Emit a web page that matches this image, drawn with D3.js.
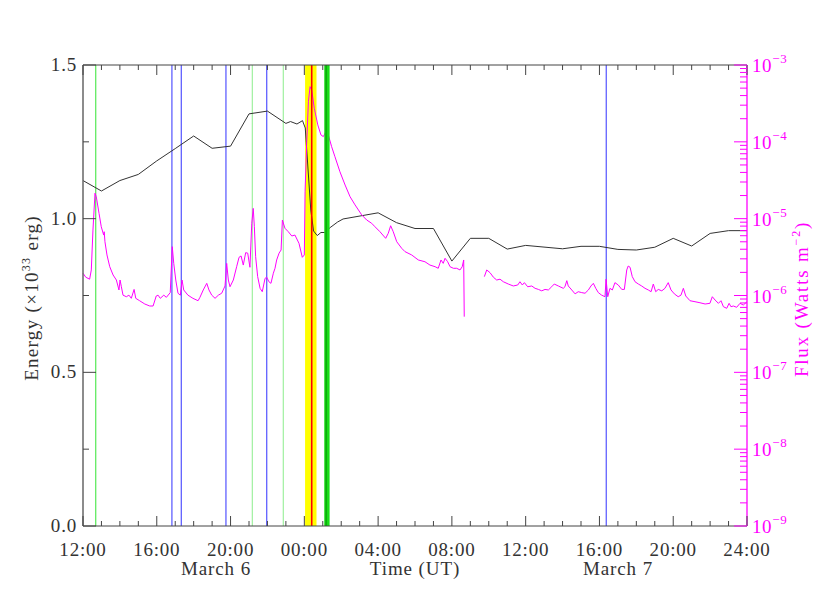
<!DOCTYPE html>
<html><head><meta charset="utf-8">
<script src="https://cdn.jsdelivr.net/npm/d3@7"></script>
<style>body{margin:0;background:#fff}svg text{font-family:"Liberation Serif","DejaVu Serif",serif}</style>
</head><body>
<svg id="c" width="830" height="593"></svg>
<script>
// ---- data (hours since 12:00 UT, 6 March) ----
const energyHours = [0,1,2,3,4,5,6,7,8,9,10,11,11.25,11.6,11.9,12.05,12.35,12.5,12.7,12.9,13.1,13.4,13.8,14.1,16,17,18,19,20,21,22,23,24,26,27,28,29,30,31,32,33,34,35,36];
const energyValues = [1.124,1.090,1.124,1.144,1.188,1.228,1.269,1.229,1.236,1.341,1.350,1.310,1.316,1.308,1.319,1.295,1.028,0.960,0.945,0.955,0.955,0.971,0.989,0.999,1.019,0.987,0.968,0.968,0.862,0.936,0.936,0.901,0.913,0.902,0.910,0.910,0.900,0.898,0.907,0.936,0.911,0.952,0.961,0.961];

const fluxHours = [0,0.15,0.36,0.45,0.54,0.65,0.72,0.87,0.99,1.12,1.15,1.19,1.30,1.45,1.63,1.81,1.95,2.01,2.08,2.17,2.35,2.49,2.62,2.77,2.86,3.07,3.35,3.62,3.80,3.97,4.07,4.19,4.38,4.52,4.73,4.84,4.92,5.03,5.15,5.28,5.37,5.46,5.69,5.96,6.24,
6.34,6.52,6.71,6.83,6.98,7.16,7.34,7.52,7.70,7.79,7.88,7.97,8.15,8.33,8.46,8.57,8.69,8.82,8.93,9.05,9.15,9.23,9.29,9.36,9.47,9.60,9.72,9.87,9.96,10.08,10.19,10.32,10.41,10.50,10.63,10.74,10.81,10.95,11.13,11.32,11.49,11.71,11.89,12.00,
12.04,12.13,12.22,12.31,12.40,12.54,12.73,12.90,13.03,13.17,13.30,13.48,13.66,13.93,14.21,14.48,14.75,15.11,15.38,15.65,15.83,16.10,16.41,16.55,16.68,16.82,17.01,17.28,17.46,
17.82,18.18,18.54,18.81,19.09,19.26,19.41,19.53,19.63,19.77,19.90,20.08,20.26,20.44,20.56,20.64,20.67,21.2,
21.76,21.89,22.07,22.25,22.43,22.61,22.79,23.06,23.33,23.57,23.69,23.82,23.93,24.11,24.33,24.51,24.69,24.87,25.05,25.23,25.41,25.55,25.77,26.04,26.13,26.23,26.31,26.50,26.68,26.85,27.04,27.22,27.40,27.54,27.67,27.80,27.94,28.12,28.30,28.36,28.45,28.57,28.70,28.84,29.02,29.21,29.35,
29.48,29.56,29.66,29.78,29.93,30.11,30.29,30.47,30.65,30.80,30.92,31.05,31.19,31.38,31.55,31.73,31.88,32.06,32.27,32.42,32.55,32.68,32.91,33.18,33.45,33.73,33.99,34.12,34.27,34.45,34.59,34.72,34.90,35.03,35.13,35.26,35.44,35.62,35.80,36.00];
const fluxValues = [1.95e-6,1.73e-6,1.63e-6,2.15e-6,7.11e-6,2.14e-5,1.93e-5,1.17e-5,7.85e-6,6.12e-6,6.76e-6,5.01e-6,3.37e-6,2.37e-6,1.85e-6,1.59e-6,1.18e-6,1.59e-6,1.30e-6,1.01e-6,9.64e-7,1.01e-6,9.19e-7,1.20e-6,9.19e-7,8.55e-7,7.75e-7,7.30e-7,7.30e-7,9.85e-7,1.01e-6,9.19e-7,1.01e-6,9.47e-7,1.09e-6,4.32e-6,2.62e-6,1.59e-6,1.07e-6,1.01e-6,1.59e-6,1.18e-6,1.01e-6,9.19e-7,8.55e-7,
9.47e-7,1.18e-6,1.44e-6,1.18e-6,1.01e-6,9.19e-7,1.01e-6,1.07e-6,1.33e-6,2.62e-6,1.59e-6,1.30e-6,1.59e-6,2.37e-6,3.14e-6,3.27e-6,2.49e-6,3.61e-6,3.56e-6,2.33e-6,8.71e-6,1.36e-5,7.85e-6,3.20e-6,1.76e-6,1.24e-6,1.12e-6,1.67e-6,1.73e-6,1.51e-6,1.44e-6,1.95e-6,2.26e-6,2.90e-6,3.56e-6,3.91e-6,9.61e-6,7.50e-6,6.76e-6,5.95e-6,6.12e-6,4.78e-6,3.14e-6,3.37e-6,
2.24e-5,1.00e-4,3.33e-4,5.22e-4,4.73e-4,2.73e-4,1.66e-4,1.23e-4,1.17e-4,1.36e-4,1.23e-4,8.65e-5,6.40e-5,4.08e-5,2.74e-5,1.93e-5,1.51e-5,1.12e-5,9.61e-6,8.71e-6,7.85e-6,6.76e-6,5.55e-6,6.45e-6,8.09e-6,6.76e-6,5.01e-6,4.11e-6,3.72e-6,
3.37e-6,2.90e-6,2.75e-6,2.49e-6,2.37e-6,2.26e-6,2.90e-6,2.62e-6,3.05e-6,2.75e-6,2.37e-6,2.26e-6,2.26e-6,2.15e-6,2.37e-6,2.90e-6,5.30e-7,null,
1.76e-6,2.15e-6,1.98e-6,1.73e-6,1.59e-6,1.63e-6,1.51e-6,1.41e-6,1.33e-6,1.37e-6,1.51e-6,1.37e-6,1.47e-6,1.30e-6,1.33e-6,1.24e-6,1.20e-6,1.15e-6,1.20e-6,1.18e-6,1.30e-6,1.41e-6,1.33e-6,1.24e-6,1.30e-6,1.56e-6,1.33e-6,1.18e-6,1.05e-6,1.12e-6,1.09e-6,1.07e-6,1.18e-6,1.33e-6,1.44e-6,1.24e-6,1.09e-6,1.01e-6,9.64e-7,1.63e-6,9.64e-7,1.24e-6,1.18e-6,1.47e-6,1.37e-6,1.20e-6,1.20e-6,
2.15e-6,2.42e-6,2.33e-6,1.76e-6,1.51e-6,1.41e-6,1.33e-6,1.24e-6,1.18e-6,1.12e-6,1.41e-6,1.12e-6,1.20e-6,1.15e-6,1.24e-6,1.47e-6,1.18e-6,1.05e-6,9.64e-7,1.01e-6,1.24e-6,9.85e-7,8.55e-7,8.30e-7,8.05e-7,7.75e-7,7.91e-7,9.64e-7,8.73e-7,7.91e-7,8.55e-7,7.15e-7,6.81e-7,7.91e-7,7.15e-7,7.30e-7,7.02e-7,7.91e-7,7.52e-7,8.30e-7];

const eventLines = [
  {hour:0.69, kind:"green"}, {hour:4.82, kind:"blue"}, {hour:5.33, kind:"blue"},
  {hour:7.75, kind:"blue"}, {hour:9.18, kind:"lightgreen"}, {hour:9.96, kind:"blue"},
  {hour:10.86, kind:"lightgreen"}, {hour:28.37, kind:"blue"}
];
const yellowBand = [12.04, 12.66];
const greenBand = [13.08, 13.37];
const peakHour = 12.40;

const xTickHours = [0,4,8,12,16,20,24,28,32,36];
const xTickLabels = ["12:00","16:00","20:00","00:00","04:00","08:00","12:00","16:00","20:00","24:00"];
const energyTicks = [0.0,0.5,1.0,1.5];
const fluxExponents = [-9,-8,-7,-6,-5,-4,-3];

// ---- layout ----
const W=830,H=593, L=83, R=747, T=65, B=526;
const svg = d3.select("#c");
const x = d3.scaleLinear().domain([0,36]).range([L,R]);
const yE = d3.scaleLinear().domain([0,1.5]).range([B,T]);
const yF = d3.scaleLog().domain([1e-9,1e-3]).range([B,T]);
const kindColor = {green:"#55e855", lightgreen:"#9ff09f", blue:"#6060ff"};
const MAG = "#ff00ff", AX="#444", TXT="#333";

// event lines (below curves)
svg.append("rect").attr("x",x(yellowBand[0])).attr("y",T).attr("width",x(yellowBand[1])-x(yellowBand[0])).attr("height",B-T).attr("fill","#ffff00");
svg.selectAll("line.ev").data(eventLines).join("line")
  .attr("x1",d=>x(d.hour)).attr("x2",d=>x(d.hour)).attr("y1",T).attr("y2",B)
  .attr("stroke",d=>kindColor[d.kind]).attr("stroke-width",d=>d.kind==="blue"?1.3:1.2);

// curves
const eLine = d3.line().x(d=>x(d[0])).y(d=>yE(d[1]));
svg.append("path").datum(energyHours.map((h,i)=>[h,energyValues[i]]))
  .attr("d",eLine).attr("fill","none").attr("stroke","#333").attr("stroke-width",1);
const fLine = d3.line().defined(d=>d[1]!=null).x(d=>x(d[0])).y(d=>yF(d[1]));
svg.append("path").datum(fluxHours.map((h,i)=>[h,fluxValues[i]]))
  .attr("d",fLine).attr("fill","none").attr("stroke",MAG).attr("stroke-width",1);

// overlay markers
svg.append("line").attr("x1",x(peakHour)).attr("x2",x(peakHour)).attr("y1",T).attr("y2",B).attr("stroke","#ff0000").attr("stroke-width",1.6);
svg.append("rect").attr("x",x(greenBand[0])).attr("y",T).attr("width",x(greenBand[1])-x(greenBand[0])).attr("height",B-T).attr("fill","#18dd18");
svg.append("line").attr("x1",(x(greenBand[0])+x(greenBand[1]))/2-0.8).attr("x2",(x(greenBand[0])+x(greenBand[1]))/2-0.8).attr("y1",T).attr("y2",B).attr("stroke","#0aa00a").attr("stroke-width",1.3);

// ---- axes ----
const g = svg.append("g");
g.append("line").attr("x1",L).attr("x2",R).attr("y1",T).attr("y2",T).attr("stroke",AX);
g.append("line").attr("x1",L).attr("x2",R).attr("y1",B).attr("y2",B).attr("stroke",AX);
g.append("line").attr("x1",L).attr("x2",L).attr("y1",T).attr("y2",B).attr("stroke","#666").attr("stroke-width",1.5);
g.append("line").attr("x1",R).attr("x2",R).attr("y1",T).attr("y2",B).attr("stroke",MAG).attr("stroke-width",1.3);

// x ticks (hourly, long every 4h), top and bottom
d3.range(0,37,1).forEach(h=>{
  const len = h%4===0?10:5;
  g.append("line").attr("x1",x(h)).attr("x2",x(h)).attr("y1",B).attr("y2",B-len).attr("stroke",AX);
  g.append("line").attr("x1",x(h)).attr("x2",x(h)).attr("y1",T).attr("y2",T+len).attr("stroke",AX);
});
xTickHours.forEach((h,i)=>{
  g.append("text").attr("x",x(h)).attr("y",556).attr("text-anchor","middle")
   .attr("font-size",19).attr("fill",TXT).attr("letter-spacing",0.8).text(xTickLabels[i]);
});
[["March 6",216],["Time (UT)",415],["March 7",618]].forEach(([s,px])=>{
  g.append("text").attr("x",px).attr("y",575).attr("text-anchor","middle").attr("font-size",19)
   .attr("fill",TXT).attr("letter-spacing",0.9).text(s);
});

// left axis ticks
d3.range(0,1.51,0.25).forEach(v=>{
  const major = Math.abs(v*2-Math.round(v*2))<1e-6;
  g.append("line").attr("x1",L).attr("x2",L+(major?13:6)).attr("y1",yE(v)).attr("y2",yE(v)).attr("stroke",AX);
});
energyTicks.forEach(v=>{
  g.append("text").attr("x",77).attr("y",yE(v)+6).attr("text-anchor","end")
   .attr("font-size",19).attr("fill",TXT).attr("letter-spacing",0.8).text(v.toFixed(1));
});
const lab = g.append("text").attr("transform","translate(38,298) rotate(-90)").attr("text-anchor","middle")
  .attr("font-size",19).attr("fill",TXT).attr("letter-spacing",1.3);
lab.append("tspan").text("Energy (×10");
lab.append("tspan").attr("dy",-8).attr("font-size",12).text("33");
lab.append("tspan").attr("dy",8).text(" erg)");

// right axis (log)
fluxExponents.forEach((e,i)=>{
  const base = Math.pow(10,e);
  g.append("line").attr("x1",R).attr("x2",R-13).attr("y1",yF(base)).attr("y2",yF(base)).attr("stroke",MAG);
  if(i<fluxExponents.length-1){
    d3.range(2,10).forEach(m=>{
      g.append("line").attr("x1",R).attr("x2",R-7).attr("y1",yF(m*base)).attr("y2",yF(m*base)).attr("stroke",MAG);
    });
  }
  const t = g.append("text").attr("x",752).attr("y",yF(base)+7).attr("font-size",19).attr("fill",MAG).attr("letter-spacing",0.6);
  t.append("tspan").text("10");
  t.append("tspan").attr("dy",-9).attr("font-size",13).text("−"+(-e));
});
const rl = g.append("text").attr("transform","translate(808,299) rotate(-90)").attr("text-anchor","middle")
  .attr("font-size",19).attr("fill",MAG).attr("letter-spacing",1.8);
rl.append("tspan").text("Flux (Watts m");
rl.append("tspan").attr("dy",-8).attr("font-size",12).text("−2");
rl.append("tspan").attr("dy",8).text(")");
</script>
</body></html>
